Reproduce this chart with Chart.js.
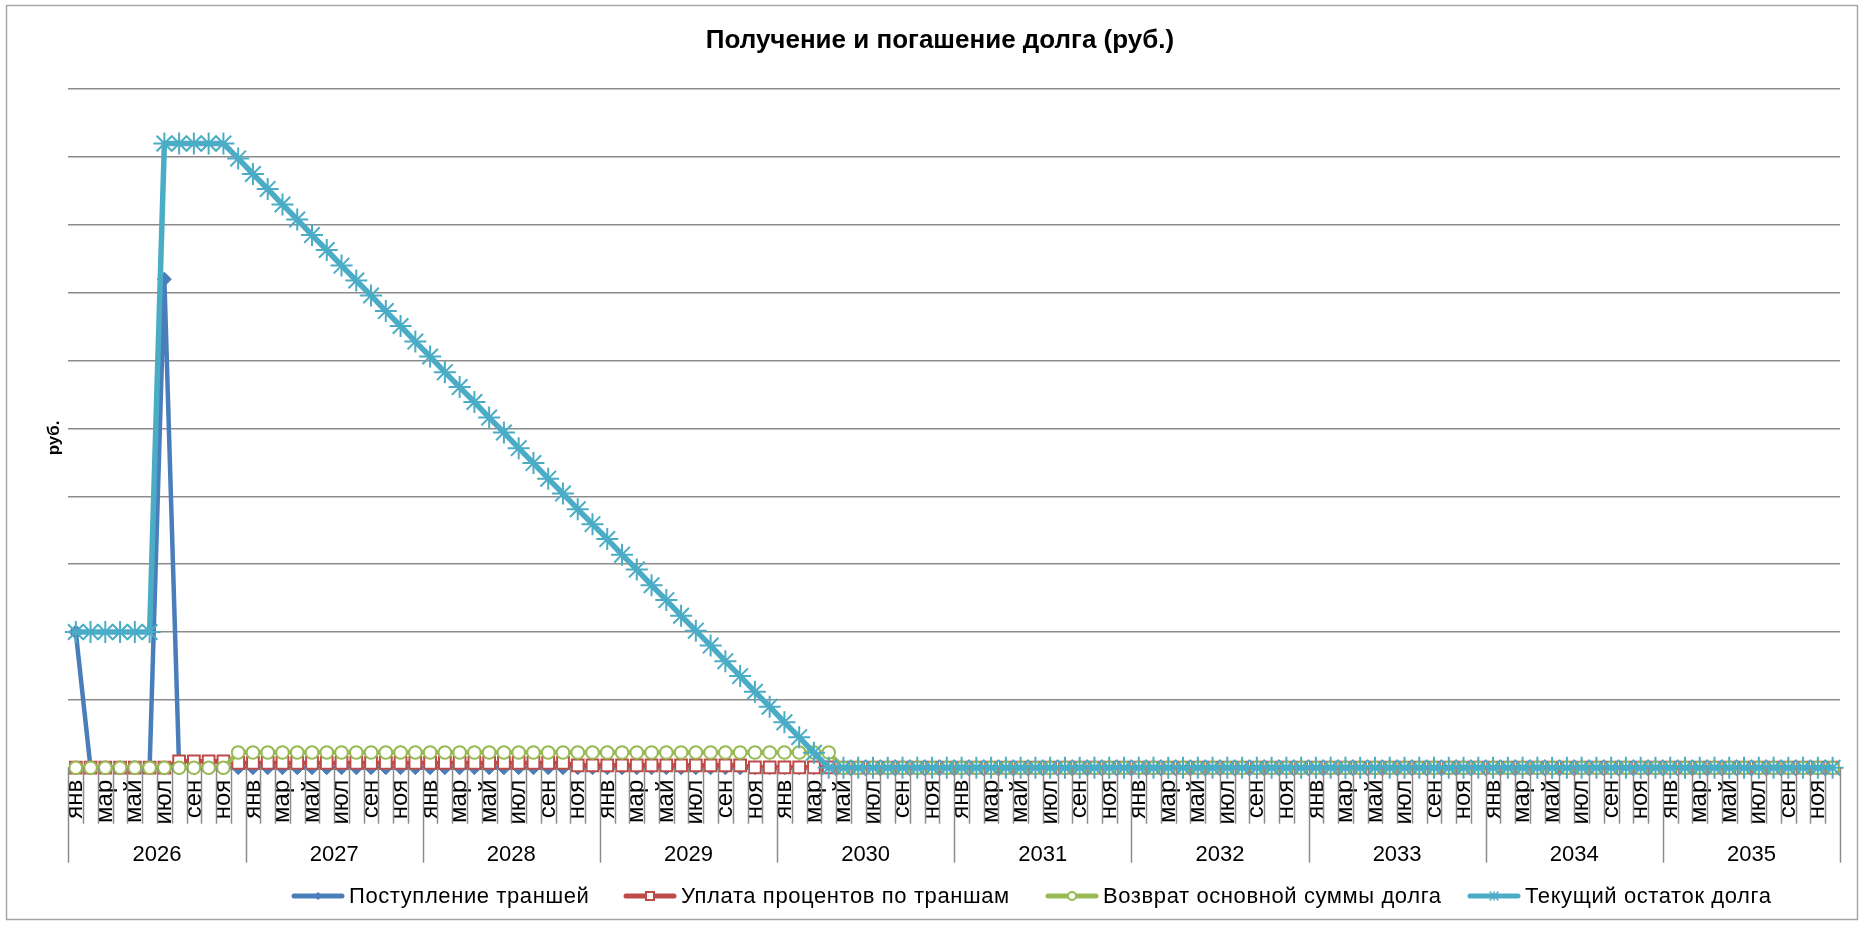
<!DOCTYPE html>
<html>
<head>
<meta charset="utf-8">
<script src="https://cdn.jsdelivr.net/npm/chart.js"></script>
<style>
  html, body { margin: 0; padding: 0; background: #fff; overflow: hidden; }
  #wrap { width: 1865px; height: 926px; position: relative; }
</style>
</head>
<body>
<div id="wrap"><canvas id="debtChart"></canvas></div>
<script>
const years = ['2026', '2027', '2028', '2029', '2030', '2031', '2032', '2033', '2034', '2035'];
const monthNames = ['янв', 'фев', 'мар', 'апр', 'май', 'июн', 'июл', 'авг', 'сен', 'окт', 'ноя', 'дек'];
const monthLabels = years.flatMap(() => monthNames);

// Поступление траншей
const trancheIn = [
    2, 0, 0, 0, 0, 0, 7.2, 0, 0, 0, 0, 0,
    0, 0, 0, 0, 0, 0, 0, 0, 0, 0, 0, 0,
    0, 0, 0, 0, 0, 0, 0, 0, 0, 0, 0, 0,
    0, 0, 0, 0, 0, 0, 0, 0, 0, 0, 0, 0,
    0, 0, 0, 0, 0, 0, 0, 0, 0, 0, 0, 0,
    0, 0, 0, 0, 0, 0, 0, 0, 0, 0, 0, 0,
    0, 0, 0, 0, 0, 0, 0, 0, 0, 0, 0, 0,
    0, 0, 0, 0, 0, 0, 0, 0, 0, 0, 0, 0,
    0, 0, 0, 0, 0, 0, 0, 0, 0, 0, 0, 0,
    0, 0, 0, 0, 0, 0, 0, 0, 0, 0, 0, 0
];

// Уплата процентов по траншам
const interest = [
    0, 0, 0, 0, 0, 0, 0, 0.095, 0.095, 0.095, 0.095, 0.07,
    0.07, 0.07, 0.07, 0.07, 0.07, 0.07, 0.07, 0.07, 0.07, 0.07, 0.07, 0.07,
    0.07, 0.07, 0.07, 0.07, 0.07, 0.07, 0.07, 0.07, 0.07, 0.07, 0.035, 0.035,
    0.035, 0.035, 0.035, 0.035, 0.035, 0.035, 0.035, 0.035, 0.035, 0.035, 0.005, 0.005,
    0.005, 0.005, 0.005, 0.005, 0, 0, 0, 0, 0, 0, 0, 0,
    0, 0, 0, 0, 0, 0, 0, 0, 0, 0, 0, 0,
    0, 0, 0, 0, 0, 0, 0, 0, 0, 0, 0, 0,
    0, 0, 0, 0, 0, 0, 0, 0, 0, 0, 0, 0,
    0, 0, 0, 0, 0, 0, 0, 0, 0, 0, 0, 0,
    0, 0, 0, 0, 0, 0, 0, 0, 0, 0, 0, 0
];

// Возврат основной суммы долга
const principal = [
    0, 0, 0, 0, 0, 0, 0, 0, 0, 0, 0, 0.224,
    0.224, 0.224, 0.224, 0.224, 0.224, 0.224, 0.224, 0.224, 0.224, 0.224, 0.224, 0.224,
    0.224, 0.224, 0.224, 0.224, 0.224, 0.224, 0.224, 0.224, 0.224, 0.224, 0.224, 0.224,
    0.224, 0.224, 0.224, 0.224, 0.224, 0.224, 0.224, 0.224, 0.224, 0.224, 0.224, 0.224,
    0.224, 0.224, 0.224, 0.224, 0, 0, 0, 0, 0, 0, 0, 0,
    0, 0, 0, 0, 0, 0, 0, 0, 0, 0, 0, 0,
    0, 0, 0, 0, 0, 0, 0, 0, 0, 0, 0, 0,
    0, 0, 0, 0, 0, 0, 0, 0, 0, 0, 0, 0,
    0, 0, 0, 0, 0, 0, 0, 0, 0, 0, 0, 0,
    0, 0, 0, 0, 0, 0, 0, 0, 0, 0, 0, 0
];

// Текущий остаток долга
const balance = [
    2, 2, 2, 2, 2, 2, 9.2, 9.2, 9.2, 9.2, 9.2, 8.98,
    8.75, 8.53, 8.30, 8.08, 7.85, 7.63, 7.40, 7.18, 6.96, 6.73, 6.51, 6.28,
    6.06, 5.83, 5.61, 5.39, 5.16, 4.94, 4.71, 4.49, 4.26, 4.04, 3.81, 3.59,
    3.37, 3.14, 2.92, 2.69, 2.47, 2.24, 2.02, 1.80, 1.57, 1.35, 1.12, 0.90,
    0.67, 0.45, 0.22, 0, 0, 0, 0, 0, 0, 0, 0, 0,
    0, 0, 0, 0, 0, 0, 0, 0, 0, 0, 0, 0,
    0, 0, 0, 0, 0, 0, 0, 0, 0, 0, 0, 0,
    0, 0, 0, 0, 0, 0, 0, 0, 0, 0, 0, 0,
    0, 0, 0, 0, 0, 0, 0, 0, 0, 0, 0, 0,
    0, 0, 0, 0, 0, 0, 0, 0, 0, 0, 0, 0
];

const fontFamily = '"Liberation Sans", Arial, sans-serif';
const gridColor = '#8c8c8c';

Chart.defaults.font.family = fontFamily;
Chart.defaults.color = '#000';

// excel-like legend: line sample with marker in the middle
const legendStart = [291, 623, 1045, 1467];

function drawMarker(ctx, style, x, y, r, color) {
    ctx.beginPath();
    if (style === 'rectRot') {
        ctx.moveTo(x, y - r); ctx.lineTo(x + r, y); ctx.lineTo(x, y + r); ctx.lineTo(x - r, y);
        ctx.closePath();
        ctx.fillStyle = color; ctx.fill();
    } else if (style === 'rect') {
        ctx.rect(x - r, y - r, 2 * r, 2 * r);
        ctx.fillStyle = '#fff'; ctx.fill();
        ctx.lineWidth = 2; ctx.strokeStyle = color; ctx.stroke();
    } else if (style === 'circle') {
        ctx.arc(x, y, r, 0, Math.PI * 2);
        ctx.fillStyle = '#fff'; ctx.fill();
        ctx.lineWidth = 2; ctx.strokeStyle = color; ctx.stroke();
    } else {
        ctx.moveTo(x - r, y - r); ctx.lineTo(x + r, y + r);
        ctx.moveTo(x + r, y - r); ctx.lineTo(x - r, y + r);
        ctx.moveTo(x, y - r); ctx.lineTo(x, y + r);
        ctx.lineWidth = 1.5; ctx.strokeStyle = color; ctx.stroke();
    }
}

const excelLegend = {
    id: 'excelLegend',
    afterDraw(chart) {
        const ctx = chart.ctx;
        const y = 896;
        ctx.save();
        chart.data.datasets.forEach((ds, i) => {
            const x = legendStart[i];
            ctx.beginPath();
            ctx.moveTo(x + 3, y);
            ctx.lineTo(x + 51, y);
            ctx.lineCap = 'round';
            ctx.lineWidth = 5;
            ctx.strokeStyle = ds.borderColor;
            ctx.stroke();
            drawMarker(ctx, ds.pointStyle, x + 27, y, 4, ds.borderColor);
            ctx.font = '22px ' + fontFamily;
            ctx.letterSpacing = '0.6px';
            ctx.fillStyle = '#000';
            ctx.textBaseline = 'middle';
            ctx.textAlign = 'left';
            ctx.fillText(ds.label, x + 58, y + 1);
        });
        ctx.restore();
    }
};

// month / year divider ticks under the category axis
const dividers = {
    id: 'dividers',
    afterDraw(chart) {
        const ctx = chart.ctx;
        const sc = chart.scales.x2;
        const y0 = chart.chartArea.bottom;
        ctx.save();
        ctx.strokeStyle = gridColor;
        ctx.lineWidth = 1.5;
        for (let k = 0; k <= monthLabels.length; k++) {
            const px = Math.round(sc.getPixelForValue(k)) + 0.5;
            ctx.beginPath();
            ctx.moveTo(px, y0);
            ctx.lineTo(px, y0 + (k % 12 === 0 ? 95 : 56));
            ctx.stroke();
        }
        ctx.restore();
    }
};

const frame = {
    id: 'frame',
    beforeDraw(chart) {
        const ctx = chart.ctx;
        ctx.save();
        ctx.fillStyle = '#fff';
        ctx.fillRect(0, 0, chart.width, chart.height);
        ctx.strokeStyle = '#a6a6a6';
        ctx.lineWidth = 1.5;
        ctx.strokeRect(6.5, 5.5, 1851, 914);
        ctx.restore();
    }
};

// rotated labels make chart.js reserve side padding; the reference has none
function noSidePadding(scale) {
    scale.paddingLeft = 0;
    scale.paddingRight = 0;
}

const ctx = document.getElementById('debtChart').getContext('2d');

new Chart(ctx, {
    type: 'line',
    data: {
        labels: monthLabels,
        datasets: [
            {
                label: 'Поступление траншей',
                data: trancheIn,
                borderColor: '#4a7ebb',
                backgroundColor: '#4a7ebb',
                borderWidth: 4.5,
                pointStyle: 'rectRot',
                pointRadius: 7,
                pointBorderWidth: 1,
                order: 4
            },
            {
                label: 'Уплата процентов по траншам',
                data: interest,
                borderColor: '#be4b48',
                backgroundColor: '#fff',
                borderWidth: 4.5,
                pointStyle: 'rect',
                pointRadius: 8.3,
                pointBorderWidth: 2,
                order: 3
            },
            {
                label: 'Возврат основной суммы долга',
                data: principal,
                borderColor: '#98b954',
                backgroundColor: '#fff',
                borderWidth: 4.5,
                pointStyle: 'circle',
                pointRadius: 6.3,
                pointBorderWidth: 2,
                order: 2
            },
            {
                label: 'Текущий остаток долга',
                data: balance,
                borderColor: '#4bacc6',
                backgroundColor: '#4bacc6',
                borderWidth: 5.5,
                pointStyle: 'star',
                pointRadius: 11,
                pointBorderWidth: 2,
                order: 1
            }
        ]
    },
    options: {
        responsive: true,
        maintainAspectRatio: false,
        animation: false,
        elements: {
            line: { tension: 0, borderJoinStyle: 'round', borderCapStyle: 'round', fill: false },
            point: { hoverRadius: 6 }
        },
        datasets: { line: { clip: false } },
        layout: { padding: { left: 40, right: 25, top: 0, bottom: 53 } },
        scales: {
            x: {
                type: 'category',
                offset: true,
                afterFit: noSidePadding,
                grid: { display: false, drawTicks: false },
                border: { display: true, color: gridColor, width: 1.5 },
                ticks: {
                    autoSkip: false,
                    minRotation: 90,
                    maxRotation: 90,
                    padding: 12,
                    font: { size: 24 },
                    callback: (value, index) => index % 2 === 0 ? monthLabels[index] : ''
                }
            },
            x2: {
                type: 'linear',
                position: 'bottom',
                weight: 1,
                min: 0,
                max: 120,
                afterFit: noSidePadding,
                grid: { display: false, drawTicks: false },
                border: { display: false },
                ticks: {
                    stepSize: 6,
                    autoSkip: false,
                    maxRotation: 0,
                    padding: 5,
                    font: { size: 22 },
                    callback: (value) => value % 12 === 6 ? years[(value - 6) / 12] : ''
                }
            },
            y: {
                min: 0,
                max: 10,
                ticks: { display: false, stepSize: 1 },
                grid: { color: gridColor, lineWidth: 1.5, drawTicks: false },
                border: { display: false },
                title: {
                    display: true,
                    text: 'руб.\u00a0\u00a0\u00a0\u00a0',
                    font: { size: 17, weight: 'bold' },
                    padding: { top: 4, bottom: 4 }
                }
            }
        },
        plugins: {
            title: {
                display: true,
                text: 'Получение и погашение долга (руб.)',
                font: { size: 26, weight: 'bold' },
                padding: { top: 25, bottom: 33 }
            },
            legend: { display: false },
            tooltip: { enabled: false }
        }
    },
    plugins: [frame, dividers, excelLegend]
});
</script>
</body>
</html>
